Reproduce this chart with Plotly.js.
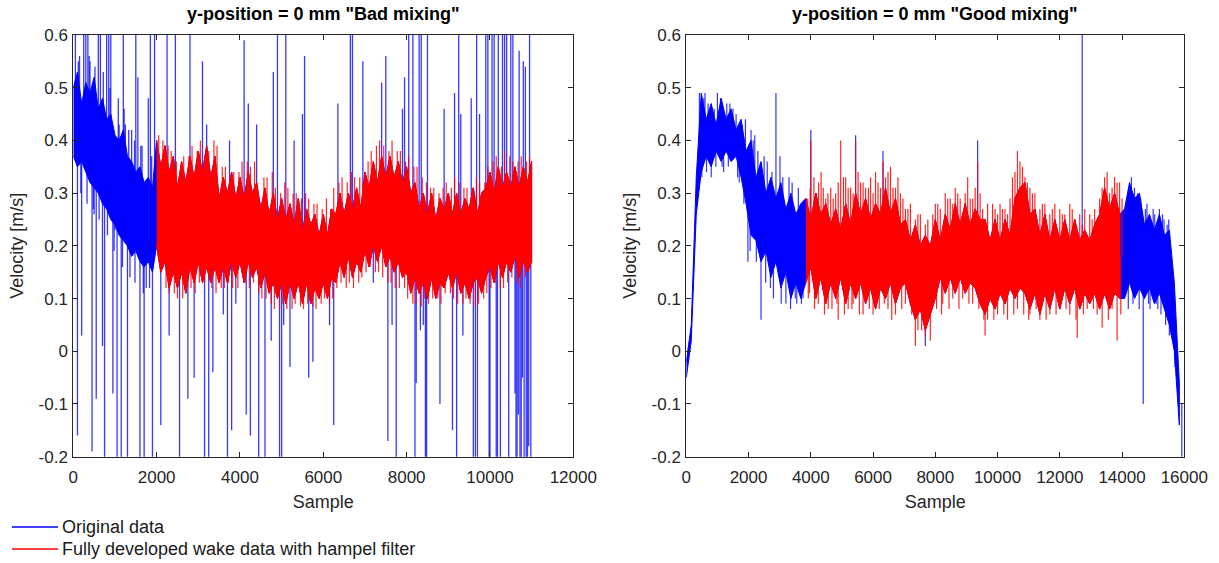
<!DOCTYPE html>
<html>
<head>
<meta charset="utf-8">
<script src="https://cdn.plot.ly/plotly-3.0.1.min.js"></script>
<style>html,body{margin:0;padding:0;background:#fff;}#chart{width:1219px;height:563px;}</style>
</head>
<body>
<div id="chart"></div>
<script>
// =============== LEFT PANEL: "Bad mixing" ===============
// dense core of the signal read as upper / lower envelope every 100 samples
const leftStep = 100;
// original data before the wake region, samples 0..1900
const leftStartUpper = [0.50,0.53,0.47,0.51,0.49,0.52,0.46,0.48,0.44,0.45,0.41,0.40,0.42,0.37,0.36,0.34,0.35,0.32,0.33,0.31];
const leftStartLower = [0.37,0.35,0.36,0.34,0.32,0.31,0.30,0.28,0.27,0.25,0.24,0.22,0.21,0.20,0.18,0.19,0.17,0.16,0.17,0.15];
// fully developed wake (hampel filtered), samples 2000..11000
const leftRedStart = 2000;
const leftRedUpper = [
  0.40,0.35,0.39,0.34,0.37, 0.31,0.36,0.32,0.37,0.33, 0.38,0.34,0.39,0.33,0.37,
  0.29,0.33,0.30,0.34,0.29, 0.33,0.29,0.34,0.30,0.32, 0.27,0.31,0.26,0.30,0.25,
  0.29,0.25,0.28,0.24,0.29, 0.23,0.27,0.24,0.26,0.22, 0.26,0.22,0.27,0.26,0.30,
  0.26,0.30,0.27,0.31,0.27, 0.34,0.31,0.36,0.32,0.37, 0.33,0.37,0.33,0.36,0.32,
  0.35,0.30,0.32,0.27,0.30, 0.26,0.30,0.25,0.29,0.27, 0.30,0.26,0.30,0.26,0.29,
  0.27,0.31,0.26,0.30,0.31, 0.34,0.30,0.35,0.31,0.34, 0.31,0.35,0.31,0.35,0.32, 0.36];
const leftRedLower = [
  0.20,0.15,0.17,0.12,0.15, 0.12,0.15,0.11,0.16,0.13, 0.17,0.13,0.16,0.13,0.16,
  0.13,0.16,0.13,0.17,0.14, 0.17,0.13,0.17,0.14,0.16, 0.12,0.15,0.11,0.13,0.10,
  0.13,0.09,0.13,0.10,0.13, 0.09,0.13,0.09,0.12,0.10, 0.13,0.10,0.14,0.13,0.17,
  0.14,0.18,0.14,0.17,0.15, 0.19,0.16,0.20,0.17,0.20, 0.16,0.18,0.15,0.17,0.14,
  0.15,0.11,0.14,0.11,0.13, 0.10,0.14,0.10,0.13,0.12, 0.15,0.12,0.15,0.11,0.13,
  0.10,0.13,0.14,0.11,0.14, 0.16,0.13,0.17,0.14,0.17, 0.15,0.18,0.14,0.17,0.15, 0.17];
// single-sample excursions of the filtered wake data
const leftRedSpikeSamples = [2050,2150,2350,2650,2850,3050,3250,3450,3650,3850,4050,4250,4350,4650,4850,5150,5350,5650,5850,6250,6450,6750,6950,
  7150,7350,7450,7650,7850,8050,8250,8650,8950,9150,9450,9750,9950,10150,10350,10550,10750,10950,
  2300,2500,2700,3150,3550,3950,4450,4750,4950,5250,5450,5750,5950,6150,6550,6850,7250,7550,7950,8150,8350,8750,9050,9350,9650,9850,10250,10650,10850,
  2275,2475,2575,2775,2975,3375,3575,3775,3975,4175,4575,4775,4975,5075,5275,5475,5575,5775,5975,6075,6175,6375,6575,6675,6875,7075,7275,7575,7775,7975,
  8175,8375,8475,8575,8775,8875,9075,9275,9375,9575,9675,9875,10075,10275,10475,10675,10875,
  2125,2225,2425,2625,2825,2925,3025,3325,3425,3625,3725,3825,4125,4225,4325,4525,4625,4825,5025,5125,5325,5525,5625,5825,6025,6225,6325,6425,6625,6725,
  6925,7025,7125,7325,7425,7625,7725,7825,8025,8225,8425,8525,8625,8825,8925,9125,9225,9425,9525,9725,9925,10025,10125,10325,10425,10525,10725,10925];
const leftRedSpikeValues = [0.41,0.40,0.38,0.37,0.39,0.40,0.38,0.39,0.35,0.34,0.36,0.35,0.36,0.33,0.31,0.31,0.30,0.29,0.28,0.31,0.33,0.33,0.32,
  0.38,0.40,0.39,0.40,0.38,0.37,0.35,0.31,0.32,0.33,0.31,0.32,0.35,0.37,0.38,0.36,0.37,0.37,
  0.11,0.10,0.11,0.13,0.12,0.12,0.11,0.09,0.08,0.08,0.085,0.085,0.09,0.09,0.12,0.13,0.15,0.13,0.12,0.09,0.085,0.10,0.11,0.09,0.085,0.10,0.12,0.13,0.14,
  0.39,0.36,0.35,0.37,0.38,0.40,0.35,0.33,0.34,0.36,0.33,0.34,0.30,0.32,0.30,0.29,0.30,0.28,0.27,0.29,0.27,0.32,0.32,0.34,0.33,0.36,0.39,0.38,0.38,0.36,
  0.35,0.33,0.32,0.31,0.30,0.31,0.31,0.32,0.31,0.31,0.33,0.32,0.36,0.35,0.37,0.36,0.36,
  0.16,0.12,0.11,0.10,0.12,0.11,0.13,0.12,0.11,0.12,0.13,0.12,0.13,0.12,0.13,0.10,0.10,0.08,0.09,0.08,0.09,0.08,0.09,0.08,0.10,0.10,0.12,0.13,0.13,0.12,
  0.14,0.15,0.16,0.15,0.14,0.13,0.12,0.12,0.10,0.09,0.10,0.09,0.10,0.09,0.11,0.10,0.09,0.10,0.09,0.09,0.11,0.12,0.13,0.12,0.13,0.14,0.12,0.15];
// outliers of the original data that the hampel filter removed (plus the raw noise of the start section)
const leftBlueSpikeSamples = [50,100,200,250,300,350,450,550,600,650,700,750,800,850,900,950,1050,1100,1150,1200,1300,1500,1550,1600,1700,1800,1850,1900,1950,
  2100,2250,2300,2450,2550,2750,2800,2900,3100,3150,3200,3250,3350,3600,3700,3750,3800,3900,
  4100,4150,4200,4250,4400,4450,4600,4750,4800,4900,4950,5000,5050,5100,5200,5300,5500,5550,5650,5750,
  6150,6250,6350,6650,6700,6950,7200,7400,7500,7550,7650,7750,7900,7950,8050,8150,8200,8300,8350,8400,8450,8500,
  8800,8900,9100,9150,9200,9250,9300,9350,9550,9600,9650,9700,9750,9900,9950,10000,10050,10100,10150,10200,10250,
  10300,10350,10400,10450,10500,10550,10600,10650,10700,10750,10800,10850,10900,10950,
  150,400,500,1000,1250,1400,1650,1750,
  120,380,520,720,880,1080,1220,1330,1470,1620,1880,180,330,480,620,820,980,1180,1360,1480,1680,1830,
  9980,10180,10625,10680,10720,10780,10820,10870,10930,10980,8230,8330,8480,9680];
const leftBlueSpikeValues = [0.8,-0.16,0.03,0.8,0.8,0.8,-0.19,-0.09,0.8,0.8,0.01,-0.3,0.8,0.8,0.8,-0.08,-0.3,0.43,-0.3,0.8,-0.3,0.8,0.52,-0.3,-0.3,0.48,0.8,-0.3,0.8,
  -0.14,0.8,0.03,0.8,-0.3,-0.09,0.8,-0.05,0.55,-0.3,0.43,-0.3,-0.04,0.07,-0.3,0.40,-0.15,0.09,
  0.59,-0.12,0.47,-0.16,0.43,-0.3,-0.3,0.02,0.53,0.8,-0.3,-0.3,0.05,0.8,-0.03,0.40,0.45,0.56,-0.05,-0.02,
  0.05,-0.14,0.47,0.8,0.8,0.55,0.13,0.51,0.56,-0.17,0.05,-0.3,0.46,0.52,0.8,0.8,-0.3,0.8,0.8,0.05,-0.3,0.8,
  -0.1,0.46,-0.15,0.49,-0.3,0.8,0.45,0.03,0.48,-0.3,-0.3,-0.3,0.45,0.8,0.8,-0.3,0.8,0.8,-0.3,0.8,-0.3,
  0.8,0.8,0.8,-0.3,0.8,0.8,-0.08,-0.3,0.57,-0.3,0.55,0.54,-0.3,0.8,
  0.56,0.55,0.26,0.23,0.43,0.42,0.39,0.12,
  0.55,0.56,0.54,0.53,0.50,0.48,0.46,0.42,0.40,0.39,0.37,0.30,0.28,0.27,0.25,0.22,0.19,0.16,0.14,0.13,0.11,0.12,
  -0.3,-0.3,-0.3,-0.12,-0.3,-0.05,-0.3,-0.3,-0.18,-0.3,-0.06,0.04,-0.3,0.8];

// =============== RIGHT PANEL: "Good mixing" ===============
const rightStep = 160;
// original data, samples 0..3680
const rightStartUpper = [-0.02,0.05,0.33,0.49,0.44,0.47,0.43,0.48,0.44,0.46,0.42,0.44,0.38,0.40,0.33,0.36,0.30,0.33,0.29,0.32,0.27,0.30,0.26,0.28];
const rightStartLower = [-0.05,0.02,0.26,0.34,0.37,0.35,0.38,0.36,0.38,0.36,0.37,0.33,0.28,0.22,0.21,0.17,0.19,0.14,0.17,0.12,0.15,0.10,0.13,0.10];
// fully developed wake (hampel filtered), samples 3840..13920
const rightRedStart = 3840;
const rightRedUpper = [
  0.29,0.25,0.30,0.26,0.28,0.24,0.27,0.23,0.28,0.24, 0.30,0.26,0.29,0.25,0.28,0.26,0.31,0.26,0.29,0.24,
  0.25,0.21,0.24,0.20,0.22,0.20,0.25,0.21,0.26,0.23, 0.28,0.24,0.28,0.24,0.27,0.25,0.25,0.21,0.25,0.21,
  0.25,0.22,0.29,0.31,0.32,0.26,0.27,0.22,0.26,0.21, 0.25,0.21,0.25,0.21,0.25,0.21,0.23,0.21,0.24,0.26,
  0.31,0.27,0.30,0.26];
const rightRedLower = [
  0.13,0.16,0.10,0.14,0.09,0.13,0.10,0.14,0.09,0.13, 0.10,0.13,0.09,0.12,0.08,0.12,0.10,0.13,0.09,0.12,
  0.13,0.09,0.06,0.08,0.04,0.07,0.10,0.14,0.11,0.14, 0.11,0.14,0.11,0.13,0.12,0.09,0.07,0.10,0.08,0.11,
  0.09,0.12,0.10,0.12,0.11,0.08,0.11,0.07,0.11,0.08, 0.12,0.08,0.12,0.09,0.12,0.08,0.11,0.09,0.11,0.08,
  0.11,0.08,0.11,0.10];
// original data after the wake region, samples 14080..15840
const rightEndUpper = [0.27,0.32,0.29,0.30,0.24,0.26,0.23,0.26,0.22,0.23,0.13,-0.06];
const rightEndLower = [0.10,0.13,0.10,0.12,0.10,0.12,0.09,0.11,0.08,0.05,0.00,-0.14];
const rightRedSpikeSamples = [3900,4000,4100,4250,4400,4550,4720,4960,5050,5200,5440,5520,5680,5850,6000,6160,6320,6480,6640,6800,6960,7120,7440,7760,
  8080,8400,8560,8720,9040,9200,9360,9520,9840,10000,10160,10320,10480,10640,10800,10960,11120,11440,11760,12080,12400,12720,12960,13200,13360,13520,13680,13840,14000,
  3960,4240,4560,4880,5200,5360,5680,6000,6480,6720,7040,7360,7440,7680,7840,8240,8560,8880,9200,9600,9680,10000,10320,10640,11040,11360,11680,12000,12320,12560,12880,13200,13360,13680,13840,
  3980,4180,4330,4480,4640,4800,4880,5120,5280,5360,5600,5760,5920,6080,6240,6400,6560,6720,6880,7040,7200,7360,7520,7680,7920,8000,8160,8320,8480,8640,8800,8960,9120,9280,9440,
  9680,9920,10080,10240,10400,10560,10720,10880,11040,11200,11360,11520,11680,11840,12000,12160,12320,12480,12640,12800,13040,13120,13280,13440,13600,13760,13920,
  3920,4120,4440,4680,4840,5080,5320,5560,5880,6200,6360,6600,6920,7240,7560,7640,8040,8200,8440,8760,9080,9400,9560,9880,10200,10520,10840,11000,11240,11560,11880,12200,12520,12760,13080,13560,13960];
const rightRedSpikeValues = [0.29,0.40,0.33,0.32,0.31,0.30,0.29,0.40,0.33,0.31,0.40,0.34,0.32,0.31,0.30,0.32,0.36,0.34,0.31,0.33,0.29,0.27,0.26,0.25,
  0.28,0.29,0.28,0.30,0.33,0.29,0.36,0.27,0.28,0.26,0.27,0.26,0.33,0.38,0.35,0.32,0.30,0.28,0.27,0.26,0.27,0.24,0.26,0.25,0.31,0.34,0.31,0.32,0.29,
  0.11,0.09,0.08,0.06,0.08,0.09,0.07,0.07,0.08,0.07,0.09,0.01,0.04,0.03,0.02,0.09,0.10,0.10,0.09,0.03,0.06,0.07,0.06,0.08,0.07,0.06,0.07,0.08,0.07,0.025,0.08,0.07,0.045,0.08,0.02,
  0.31,0.30,0.34,0.29,0.31,0.30,0.32,0.33,0.31,0.30,0.32,0.31,0.33,0.34,0.31,0.33,0.35,0.31,0.30,0.27,0.28,0.25,0.26,0.24,0.26,0.28,0.27,0.30,0.29,0.31,0.29,0.30,0.29,0.31,0.30,
  0.28,0.27,0.28,0.27,0.29,0.34,0.36,0.33,0.31,0.30,0.27,0.28,0.26,0.28,0.27,0.26,0.28,0.25,0.26,0.27,0.25,0.27,0.29,0.33,0.30,0.33,0.32,
  0.10,0.08,0.07,0.08,0.09,0.07,0.08,0.07,0.08,0.08,0.09,0.06,0.08,0.07,0.04,0.06,0.08,0.07,0.08,0.08,0.09,0.08,0.06,0.06,0.07,0.07,0.07,0.06,0.08,0.06,0.07,0.08,0.06,0.07,0.08,0.06,0.07];
const rightBlueSpikeSamples = [600,1000,1300,1500,800,1200,1700,1980,2080,2200,2400,2600,2700,2880,3010,3200,3300,3500,3700,
  4000,5440,6320,7680,9360,12720,14200,14300,14500,14680,14800,14900,15000,15100,15300,15400,15450,15600,15920,
  420,560,700,900,1100,1400,1600,1800,1900,2150,2300,2500,2750,3100,3400,3600,14150,14400,14600,14750,15050,15200,15350,15500,
  500,650,950,1150,1350,1650,1850,2050,2250,2550,2800,3050,3350,3550,3750,14350,14550,14850,15150,15250,15520,15700];
const rightBlueSpikeValues = [0.49,0.49,0.47,0.46,0.33,0.34,0.32,0.17,0.42,0.41,0.06,0.36,0.12,0.49,0.37,0.09,0.33,0.10,0.09,
  0.42,0.41,0.38,0.01,0.40,0.8,0.08,0.33,0.30,-0.10,0.28,0.08,0.27,0.09,0.26,0.05,0.24,0.03,-0.3,
  0.49,0.48,0.47,0.46,0.48,0.47,0.45,0.43,0.44,0.40,0.38,0.37,0.34,0.33,0.32,0.31,0.29,0.31,0.29,0.27,0.26,0.27,0.25,0.25,
  0.33,0.34,0.35,0.35,0.35,0.33,0.28,0.19,0.17,0.13,0.10,0.09,0.08,0.09,0.10,0.09,0.08,0.09,0.08,0.07,0.03,-0.03];

// =============== axes / legend text ===============
const yTickVals   = [-0.2,-0.1,0,0.1,0.2,0.3,0.4,0.5,0.6];
const yTickLabels = ['-0.2','-0.1','0','0.1','0.2','0.3','0.4','0.5','0.6'];
const leftXTicks  = [0,2000,4000,6000,8000,10000,12000];
const rightXTicks = [0,2000,4000,6000,8000,10000,12000,14000,16000];
const legendNames = ['Original data', 'Fully developed wake data with hampel filter'];

// =============== assembly helpers ===============
const BLUE = '#0000ff', RED = '#ff0000';
function xsFor(n, start, step) { return Array.from({length: n}, (_, i) => start + i * step); }
// dense signal band between the read envelopes
function band(upper, lower, start, step, color, name, xa, ya) {
  const xs = xsFor(upper.length, start, step);
  return {x: xs.concat(xs.slice().reverse()), y: upper.concat(lower.slice().reverse()),
    type: 'scatter', mode: 'lines', fill: 'toself', fillcolor: color, name: name,
    line: {color: color, width: 1, simplify: false}, xaxis: xa, yaxis: ya, hoverinfo: 'skip'};
}
// single-sample excursions drawn from the signal core out to the read value
function spikes(samples, values, upper, lower, start, step, color, width, name, xa, ya) {
  const x = [], y = [];
  samples.forEach((s, k) => {
    const i = Math.min(upper.length - 1, Math.max(0, Math.round((s - start) / step)));
    x.push(s, s, null); y.push((upper[i] + lower[i]) / 2, values[k], null);
  });
  return {x: x, y: y, type: 'scatter', mode: 'lines', connectgaps: false, name: name,
    line: {color: color, width: width, simplify: false}, xaxis: xa, yaxis: ya, hoverinfo: 'skip'};
}

const leftBlueUpper = leftStartUpper.concat(leftRedUpper);
const leftBlueLower = leftStartLower.concat(leftRedLower);
const rightBlueUpper = rightStartUpper.concat(rightRedUpper, rightEndUpper);
const rightBlueLower = rightStartLower.concat(rightRedLower, rightEndLower);

const traces = [
  band(leftBlueUpper, leftBlueLower, 0, leftStep, BLUE, legendNames[0], 'x', 'y'),
  spikes(leftBlueSpikeSamples, leftBlueSpikeValues, leftBlueUpper, leftBlueLower, 0, leftStep, 'rgba(0,0,255,0.78)', 1.3, legendNames[0], 'x', 'y'),
  band(leftRedUpper, leftRedLower, leftRedStart, leftStep, RED, legendNames[1], 'x', 'y'),
  spikes(leftRedSpikeSamples, leftRedSpikeValues, leftRedUpper, leftRedLower, leftRedStart, leftStep, 'rgba(255,0,0,0.85)', 1.2, legendNames[1], 'x', 'y'),
  band(rightBlueUpper, rightBlueLower, 0, rightStep, BLUE, legendNames[0], 'x2', 'y2'),
  spikes(rightBlueSpikeSamples, rightBlueSpikeValues, rightBlueUpper, rightBlueLower, 0, rightStep, 'rgba(0,0,255,0.8)', 1.2, legendNames[0], 'x2', 'y2'),
  band(rightRedUpper, rightRedLower, rightRedStart, rightStep, RED, legendNames[1], 'x2', 'y2'),
  spikes(rightRedSpikeSamples, rightRedSpikeValues, rightRedUpper, rightRedLower, rightRedStart, rightStep, 'rgba(255,0,0,0.85)', 1.2, legendNames[1], 'x2', 'y2')
];

const W = 1219, H = 563;
const FONT = 'Liberation Sans, Arial, Helvetica, sans-serif';
const TXT = '#262626';
const yDom = [1 - 456.7 / H, 1 - 35 / H];
function xAxis(dom, range, ticks, anchor) {
  return {domain: dom, range: range, tickvals: ticks, ticktext: ticks.map(String), anchor: anchor,
    showline: true, linecolor: TXT, linewidth: 1, mirror: 'ticks', ticks: 'inside', ticklen: 5, tickcolor: TXT,
    showgrid: false, zeroline: false, tickfont: {family: FONT, size: 17, color: TXT}, ticklabelstandoff: 5,
    title: {text: 'Sample', font: {family: FONT, size: 18, color: TXT}, standoff: 9}};
}
function yAxis(anchor) {
  return {domain: yDom, range: [-0.2, 0.6], tickvals: yTickVals, ticktext: yTickLabels, anchor: anchor,
    showline: true, linecolor: TXT, linewidth: 1, mirror: 'ticks', ticks: 'inside', ticklen: 5, tickcolor: TXT,
    showgrid: false, zeroline: false, tickfont: {family: FONT, size: 17, color: TXT}, ticklabelstandoff: 1,
    title: {text: 'Velocity [m/s]', font: {family: FONT, size: 18, color: TXT}, standoff: 10}};
}

// legend below the left panel: sample lines + real text
const legendRows = [527, 549];
const legendColors = [BLUE, RED];
const legendShapes = legendRows.map((py, i) => ({type: 'line', xref: 'paper', yref: 'paper',
  x0: 12 / W, x1: 58 / W, y0: 1 - py / H, y1: 1 - py / H, line: {color: legendColors[i], width: 1.3}}));
const legendTexts = legendRows.map((py, i) => ({text: legendNames[i], xref: 'paper', yref: 'paper',
  x: 60 / W, y: 1 - py / H, xanchor: 'left', yanchor: 'middle', showarrow: false,
  font: {family: FONT, size: 18, color: '#1a1a1a'}}));

const layout = {
  width: W, height: H, margin: {l: 0, r: 0, t: 0, b: 0},
  paper_bgcolor: '#fff', plot_bgcolor: '#fff',
  xaxis: xAxis([73.3 / W, 573.3 / W], [0, 12000], leftXTicks, 'y'),
  yaxis: yAxis('x'),
  xaxis2: xAxis([686.3 / W, 1184.3 / W], [0, 16000], rightXTicks, 'y2'),
  yaxis2: yAxis('x2'),
  showlegend: false,
  shapes: legendShapes,
  annotations: [
    {text: '<b>y-position = 0 mm "Bad mixing"</b>', xref: 'x domain', yref: 'paper', x: 0.5, y: 1 - 14 / H,
     xanchor: 'center', yanchor: 'middle', showarrow: false, font: {family: FONT, size: 18, color: '#000'}},
    {text: '<b>y-position = 0 mm "Good mixing"</b>', xref: 'x2 domain', yref: 'paper', x: 0.5, y: 1 - 14 / H,
     xanchor: 'center', yanchor: 'middle', showarrow: false, font: {family: FONT, size: 18, color: '#000'}}
  ].concat(legendTexts)
};

Plotly.newPlot('chart', traces, layout, {displayModeBar: false, staticPlot: true});
</script>
</body>
</html>
